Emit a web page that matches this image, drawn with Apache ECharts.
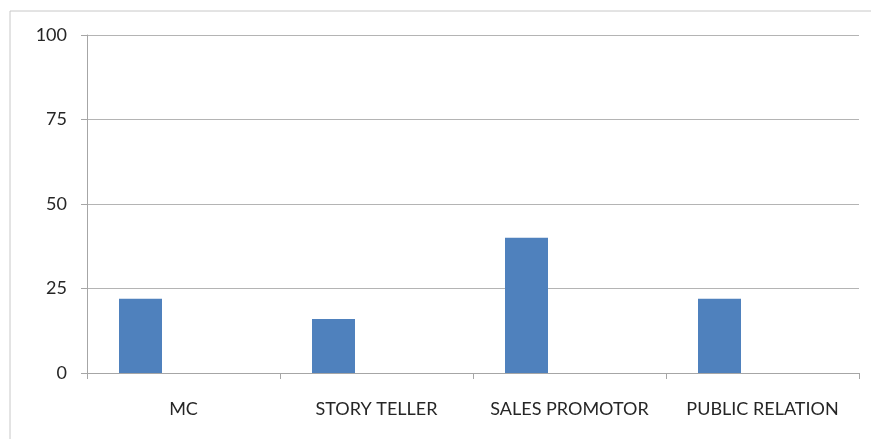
<!DOCTYPE html>
<html>
<head>
<meta charset="utf-8">
<script src="https://cdn.jsdelivr.net/npm/echarts@6/dist/echarts.min.js"></script>
<style>
  html, body { margin: 0; padding: 0; background: #fff; }
  #main { width: 871px; height: 439px; }
</style>
</head>
<body>
<div id="main"></div>
<script>
var categories = ["MC", "STORY TELLER", "SALES PROMOTOR", "PUBLIC RELATION"];
var values = [22, 16, 40, 22];
// the other two (empty) series only hold the bar slots, like the original sheet
var emptySlots = [null, null, null, null];

var axisGrey = "#a6a6a6";
var labelFont = "Lato, 'Open Sans', sans-serif";

var myChart = echarts.init(document.getElementById("main"));
var option = {
  animation: false,
  graphic: [
    {
      type: "rect",
      shape: { x: 10, y: 11, width: 880, height: 460 },
      style: { fill: "none", stroke: "#c8c8c8", lineWidth: 1 },
      silent: true,
    },
  ],
  grid: { left: 87, right: 12, top: 35, bottom: 66 },
  xAxis: {
    type: "category",
    data: categories,
    axisLine: { lineStyle: { color: axisGrey } },
    axisTick: { show: true, interval: 0, length: 6, lineStyle: { color: axisGrey } },
    axisLabel: {
      interval: 0,
      hideOverlap: false,
      color: "#262626",
      fontSize: 18,
      fontFamily: labelFont,
      margin: 27,
    },
  },
  yAxis: {
    type: "value",
    min: 0,
    max: 100,
    interval: 25,
    axisLine: { show: true, lineStyle: { color: axisGrey } },
    axisTick: { show: true, length: 6, lineStyle: { color: axisGrey } },
    splitLine: { lineStyle: { color: "#b4b4b4" } },
    axisLabel: {
      color: "#262626",
      fontSize: 18,
      fontFamily: labelFont,
      margin: 20,
    },
  },
  series: [
    {
      type: "bar",
      data: values,
      barWidth: 43,
      barGap: "0%",
      itemStyle: { color: "#4f81bd" },
    },
    { type: "bar", data: emptySlots, barWidth: 43, barGap: "0%" },
    { type: "bar", data: emptySlots, barWidth: 43, barGap: "0%" },
  ],
};
myChart.setOption(option);
window.addEventListener("resize", function () {
  myChart.resize();
});
</script>
</body>
</html>
